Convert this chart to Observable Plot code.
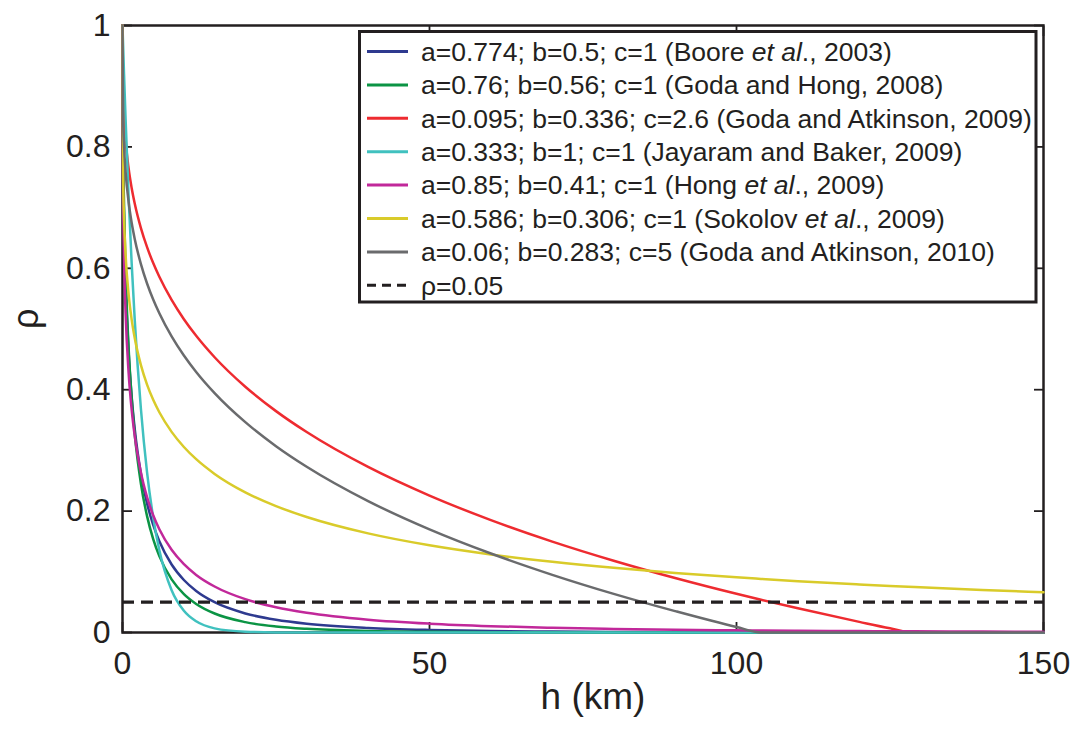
<!DOCTYPE html>
<html><head><meta charset="utf-8">
<script src="https://cdn.jsdelivr.net/npm/d3@7"></script>
<script src="https://cdn.jsdelivr.net/npm/@observablehq/plot@0.6"></script>
<style>
html,body{margin:0;padding:0;background:#fff;}
#chart{position:relative;width:1078px;height:729px;}
</style></head><body><div id="chart"></div>
<script>
// separation distance h (km)
const H = [0, 0.1, 0.25, 0.5, 1, 1.5, 2, 3, 4, 5, 6, 8, 10, 12, 15, 20, 25, 30, 40, 50, 60, 70, 80, 90, 100, 104, 110, 120, 125, 129, 140, 150];
// correlation rho read for each model
const rhoBoore2003 = [1, 0.7829, 0.6791, 0.5785, 0.4612, 0.3876, 0.3347, 0.2617, 0.2127, 0.1772, 0.1502, 0.1120, 0.0865, 0.0685, 0.0499, 0.0314, 0.0209, 0.0144, 0.0075, 0.0042, 0.0025, 0.0015, 0.0010, 0.0006, 0.0004, 0.0004, 0.0003, 0.0002, 0.0002, 0.0002, 0.0001, 0.0001];
const rhoGodaHong2008 = [1, 0.8111, 0.7049, 0.5972, 0.4677, 0.3853, 0.3261, 0.2451, 0.1917, 0.1539, 0.1258, 0.0876, 0.0633, 0.0471, 0.0313, 0.0171, 0.0100, 0.0061, 0.0025, 0.0011, 0.0005, 0.0003, 0.0001, 0.0001, 0, 0, 0, 0, 0, 0, 0, 0];
const rhoGodaAtkinson2009 = [1, 0.8885, 0.8495, 0.8115, 0.7644, 0.7318, 0.7062, 0.6662, 0.6348, 0.6086, 0.5860, 0.5478, 0.5161, 0.4888, 0.4535, 0.4049, 0.3647, 0.3302, 0.2727, 0.2255, 0.1852, 0.1498, 0.1183, 0.0898, 0.0638, 0.0540, 0.0398, 0.0175, 0.0070, 0, 0, 0];
const rhoJayaramBaker2009 = [1, 0.9672, 0.9201, 0.8466, 0.7168, 0.6068, 0.5138, 0.3682, 0.2639, 0.1892, 0.1356, 0.0697, 0.0358, 0.0184, 0.0068, 0.0013, 0.0002, 0, 0, 0, 0, 0, 0, 0, 0, 0, 0, 0, 0, 0, 0, 0];
const rhoHong2009 = [1, 0.7184, 0.6179, 0.5274, 0.4274, 0.3665, 0.3232, 0.2635, 0.2230, 0.1931, 0.1700, 0.1362, 0.1125, 0.0949, 0.0758, 0.0549, 0.0415, 0.0325, 0.0211, 0.0146, 0.0105, 0.0078, 0.0059, 0.0046, 0.0036, 0.0033, 0.0029, 0.0024, 0.0021, 0.0020, 0.0016, 0.0013];
const rhoSokolov2009 = [1, 0.7485, 0.6815, 0.6225, 0.5565, 0.5151, 0.4846, 0.4404, 0.4084, 0.3833, 0.3628, 0.3305, 0.3056, 0.2855, 0.2613, 0.2309, 0.2082, 0.1903, 0.1633, 0.1437, 0.1286, 0.1165, 0.1065, 0.0981, 0.0909, 0.0883, 0.0846, 0.0792, 0.0767, 0.0748, 0.0701, 0.0662];
const rhoGodaAtkinson2010 = [1, 0.8461, 0.8014, 0.7594, 0.7088, 0.6746, 0.6480, 0.6069, 0.5750, 0.5486, 0.5259, 0.4878, 0.4563, 0.4292, 0.3944, 0.3465, 0.3070, 0.2731, 0.2165, 0.1699, 0.1301, 0.0950, 0.0636, 0.0352, 0.0091, 0, 0, 0, 0, 0, 0, 0];

const seriesKeys = ["Boore2003", "GodaHong2008", "GodaAtkinson2009", "JayaramBaker2009", "Hong2009", "Sokolov2009", "GodaAtkinson2010"];
const seriesValues = [rhoBoore2003, rhoGodaHong2008, rhoGodaAtkinson2009, rhoJayaramBaker2009, rhoHong2009, rhoSokolov2009, rhoGodaAtkinson2010];
const seriesColors = ["#2e3a8f", "#0b9444", "#ee2b30", "#40c1bf", "#c1289a", "#d9cb2a", "#6a6b6d"];
// legend labels: [upright, italic, upright]
const legendLabels = [
  ["a=0.774; b=0.5; c=1 (Boore ", "et al", "., 2003)"],
  ["a=0.76; b=0.56; c=1 (Goda and Hong, 2008)", "", ""],
  ["a=0.095; b=0.336; c=2.6 (Goda and Atkinson, 2009)", "", ""],
  ["a=0.333; b=1; c=1 (Jayaram and Baker, 2009)", "", ""],
  ["a=0.85; b=0.41; c=1 (Hong ", "et al", "., 2009)"],
  ["a=0.586; b=0.306; c=1 (Sokolov ", "et al", "., 2009)"],
  ["a=0.06; b=0.283; c=5 (Goda and Atkinson, 2010)", "", ""]
];
const threshold = [0.05];
const thresholdLabel = "ρ=0.05";
const xTicks = [0, 50, 100, 150];
const yTicks = [0, 0.2, 0.4, 0.6, 0.8, 1];
const xLabel = "h (km)";
const yLabel = "ρ";

const rows = seriesKeys.flatMap((k, i) => H.map((h, j) => ({series: k, h, rho: seriesValues[i][j]})));

const font = "'Liberation Sans', Arial, Helvetica, sans-serif";
const ink = "#231f20";

const plot = Plot.plot({
  width: 1078, height: 729,
  marginLeft: 122, marginRight: 35, marginTop: 25, marginBottom: 97,
  style: {fontFamily: font, color: ink, background: "#fff", overflow: "visible"},
  x: {domain: [0, 150]},
  y: {domain: [0, 1]},
  color: {domain: seriesKeys, range: seriesColors},
  marks: [
    Plot.frame({stroke: ink, strokeWidth: 2.5}),
    Plot.axisX(xTicks, {tickSize: 0, tickPadding: 19, fontSize: 32, label: null, tickFormat: d => String(d)}),
    Plot.axisX(xTicks, {tickSize: -10, tickFormat: () => "", label: null, strokeWidth: 1.8}),
    Plot.axisX(xTicks, {anchor: "top", tickSize: -10, tickFormat: () => "", label: null, strokeWidth: 1.8}),
    Plot.axisY(yTicks, {tickSize: 0, tickPadding: 12, fontSize: 32, label: null, tickFormat: d => String(d)}),
    Plot.axisY(yTicks, {tickSize: -10, tickFormat: () => "", label: null, strokeWidth: 1.8}),
    Plot.axisY(yTicks, {anchor: "right", tickSize: -10, tickFormat: () => "", label: null, strokeWidth: 1.8}),
    Plot.line(rows, {x: "h", y: "rho", z: "series", stroke: "series", strokeWidth: 2.5, curve: "monotone-x"}),
    Plot.ruleY(threshold, {stroke: ink, strokeWidth: 3.3, strokeDasharray: "12,7"}),
    Plot.text([xLabel], {frameAnchor: "bottom", dy: 76, dx: 10, fontSize: 37, fill: ink}),
    Plot.text([yLabel], {frameAnchor: "left", dx: -96.5, rotate: -90, fontSize: 36, fill: ink})
  ]
});

// legend box (MATLAB style, inside the axes at the top right)
const svg = d3.select(plot);
const lg = svg.append("g").attr("font-family", font).attr("fill", ink).attr("font-size", 26.5).attr("text-anchor", "start");
lg.append("rect").attr("x", 359.5).attr("y", 31.5).attr("width", 676.5).attr("height", 270.5)
  .attr("fill", "#fff").attr("stroke", ink).attr("stroke-width", 3);
const rowY = i => 51.5 + 33.4 * i;
legendLabels.forEach((segs, i) => {
  const cy = rowY(i);
  lg.append("line").attr("x1", 367).attr("x2", 408).attr("y1", cy).attr("y2", cy)
    .attr("stroke", seriesColors[i]).attr("stroke-width", 3);
  const t = lg.append("text").attr("x", 421).attr("y", cy).attr("dy", "0.35em").attr("text-anchor", "start");
  t.append("tspan").text(segs[0]);
  if (segs[1]) t.append("tspan").attr("font-style", "italic").text(segs[1]);
  if (segs[2]) t.append("tspan").text(segs[2]);
});
{
  const cy = rowY(7);
  lg.append("line").attr("x1", 367).attr("x2", 408).attr("y1", cy).attr("y2", cy)
    .attr("stroke", ink).attr("stroke-width", 3).attr("stroke-dasharray", "9,6");
  lg.append("text").attr("x", 421).attr("y", cy).attr("dy", "0.35em").attr("text-anchor", "start").text(thresholdLabel);
}

document.getElementById("chart").appendChild(plot);
</script>
</body></html>
